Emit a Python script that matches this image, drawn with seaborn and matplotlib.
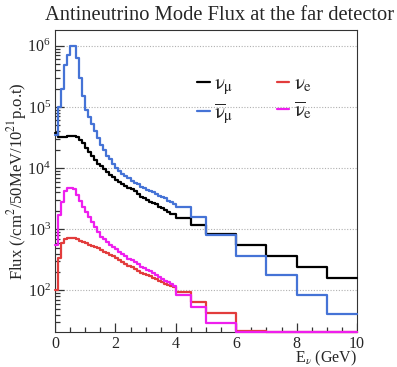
import numpy as np
import pandas as pd
import matplotlib
matplotlib.use("Agg")
import matplotlib.pyplot as plt
import matplotlib.transforms as mtransforms
import seaborn as sns

# bin edges (GeV): 0.1 GeV bins up to 4, then coarser bins
bin_edges = [0.0, 0.1, 0.2, 0.3, 0.4, 0.5, 0.6, 0.7, 0.8, 0.9,
             1.0, 1.1, 1.2, 1.3, 1.4, 1.5, 1.6, 1.7, 1.8, 1.9,
             2.0, 2.1, 2.2, 2.3, 2.4, 2.5, 2.6, 2.7, 2.8, 2.9,
             3.0, 3.1, 3.2, 3.3, 3.4, 3.5, 3.6, 3.7, 3.8, 3.9,
             4.0, 4.5, 5.0, 6.0, 7.0, 8.0, 9.0, 10.0]

# flux per bin
numu = [3.7e4, 3.2e4, 3.2e4, 3.25e4, 3.3e4, 3.4e4, 3.4e4, 3.2e4, 2.9e4, 2.6e4,
        2.15e4, 1.8e4, 1.55e4, 1.35e4, 1.17e4, 1.07e4, 9.5e3, 8.5e3, 7.8e3, 7.1e3,
        6.5e3, 6.0e3, 5.5e3, 5.1e3, 4.8e3, 4.5e3, 4.2e3, 3.8e3, 3.4e3, 3.2e3,
        3.0e3, 2.8e3, 2.7e3, 2.6e3, 2.3e3, 2.2e3, 2.05e3, 1.9e3, 1.8e3, 1.75e3,
        1.5e3, 1.17e3, 850, 550, 360, 240, 160]

numubar = [3.5e4, 1.0e5, 2.0e5, 4.8e5, 7.1e5, 9.8e5, 9.8e5, 6.2e5, 3.0e5, 1.5e5,
           8.9e4, 6.8e4, 5.2e4, 4.0e4, 3.1e4, 2.4e4, 1.95e4, 1.6e4, 1.4e4, 1.17e4,
           1.02e4, 9.1e3, 8.1e3, 7.4e3, 6.8e3, 6.2e3, 5.8e3, 5.4e3, 5.0e3, 4.7e3,
           4.4e3, 4.2e3, 4.0e3, 3.7e3, 3.5e3, 3.4e3, 3.2e3, 2.95e3, 2.75e3, 2.6e3,
           2.35e3, 1.6e3, 810, 370, 180, 85, 41]

nue = [100, 340, 600, 690, 720, 720, 710, 680, 650, 620,
       590, 560, 540, 510, 490, 460, 430, 410, 380, 360,
       340, 315, 295, 275, 255, 240, 225, 210, 195, 186,
       178, 170, 162, 155, 145, 135, 129, 123, 117, 112,
       95, 65, 42, 22, 0, 0, 0]

nuebar = [550, 1.7e3, 2.8e3, 4.2e3, 4.7e3, 4.8e3, 4.6e3, 3.6e3, 2.9e3, 2.35e3,
          1.9e3, 1.6e3, 1.3e3, 1.07e3, 890, 760, 680, 620, 560, 510,
          470, 430, 390, 360, 330, 310, 290, 270, 245, 230,
          215, 205, 190, 178, 166, 155, 145, 135, 126, 118,
          83, 54, 29, 0, 0, 0, 0]

labels = [r"$\mathrm{\nu}_{\mathrm{\mu}}$", r"$\overline{\mathrm{\nu}}_{\mathrm{\mu}}$",
          r"$\mathrm{\nu}_{\mathrm{e}}$", r"$\overline{\mathrm{\nu}}_{\mathrm{e}}$"]
colors = ["black", "#4573d6", "#e23c3c", "#ee1fee"]

ymin, ymax = 20.9, 1.81e6

sns.set_style("ticks")
plt.rcParams["font.family"] = ["Liberation Serif", "DejaVu Serif"]
plt.rcParams["mathtext.fontset"] = "stix"

edges = np.array(bin_edges)
centers = 0.5 * (edges[:-1] + edges[1:])

fig = plt.figure(figsize=(3.97, 3.67), dpi=100)
ax = fig.add_axes([55 / 397, 1 - 332 / 367, 302 / 397, 302 / 367])

for serie, lab, col in zip([numu, numubar, nue, nuebar], labels, colors):
    # values under the axis minimum are drawn on the axis, like ROOT
    df = pd.DataFrame({"E": centers, "flux": np.clip(serie, ymin, None)})
    sns.histplot(data=df, x="E", weights="flux", bins=bin_edges, element="step",
                 fill=False, color=col, linewidth=1.6, label=lab, ax=ax,
                 clip_on=False, zorder=3)

ax.set_yscale("log")
ax.set_xlim(0, 10)
ax.set_ylim(ymin, ymax)

ax.yaxis.grid(True, which="major", linestyle=(0, (1, 1.5)), color="#b0b0b0", linewidth=0.8)
ax.xaxis.grid(False)

ax.set_xticks([0, 2, 4, 6, 8, 10])
ax.xaxis.set_minor_locator(matplotlib.ticker.MultipleLocator(0.5))
ax.yaxis.set_minor_locator(matplotlib.ticker.LogLocator(base=10, subs=np.arange(2, 10)))
ax.tick_params(axis="both", which="both", direction="in", length=0)
ax.tick_params(axis="both", which="major", labelsize=11.5, pad=3)
for s in ax.spines.values():
    s.set_linewidth(0.8)
    s.set_color("#333333")

# ROOT-like inner tick marks, drawn as short lines
tx = mtransforms.blended_transform_factory(ax.transData, ax.transAxes)
ty = mtransforms.blended_transform_factory(ax.transAxes, ax.transData)
xmaj = [v for v in ax.get_xticks() if 0 <= v <= 10]
xmin = [v for v in ax.get_xticks(minor=True) if 0 < v < 10 and v not in xmaj]
ymaj = [v for v in ax.get_yticks() if ymin <= v <= ymax]
ymin_t = [v for v in ax.get_yticks(minor=True) if ymin <= v <= ymax]
kw = dict(color="#333333", linewidth=0.9, zorder=2)
ax.vlines(xmaj, 0, 9 / 302, transform=tx, **kw)
ax.vlines(xmin, 0, 5 / 302, transform=tx, **kw)
ax.hlines(ymaj, 0, 9 / 302, transform=ty, **kw)
ax.hlines(ymin_t, 0, 5 / 302, transform=ty, **kw)

fig.text(220 / 397, 1 - 20 / 367, "Antineutrino Mode Flux at the far detector",
         fontsize=14.8, ha="center", va="baseline")
ax.set_ylabel(r"Flux (/cm$^2$/50MeV/10$^{21}$p.o.t)", fontsize=12, labelpad=-1)
ax.set_xlabel(r"E$_{\nu}$ (GeV)", fontsize=11.5, loc="right", labelpad=-2.5)

ax.legend(ncol=2, loc="center", bbox_to_anchor=(0.66, 0.767), frameon=False,
          fontsize=15, handlelength=0.6, handletextpad=0.2, columnspacing=2.1,
          labelspacing=0.25)

fig.savefig("out.png", dpi=100)
